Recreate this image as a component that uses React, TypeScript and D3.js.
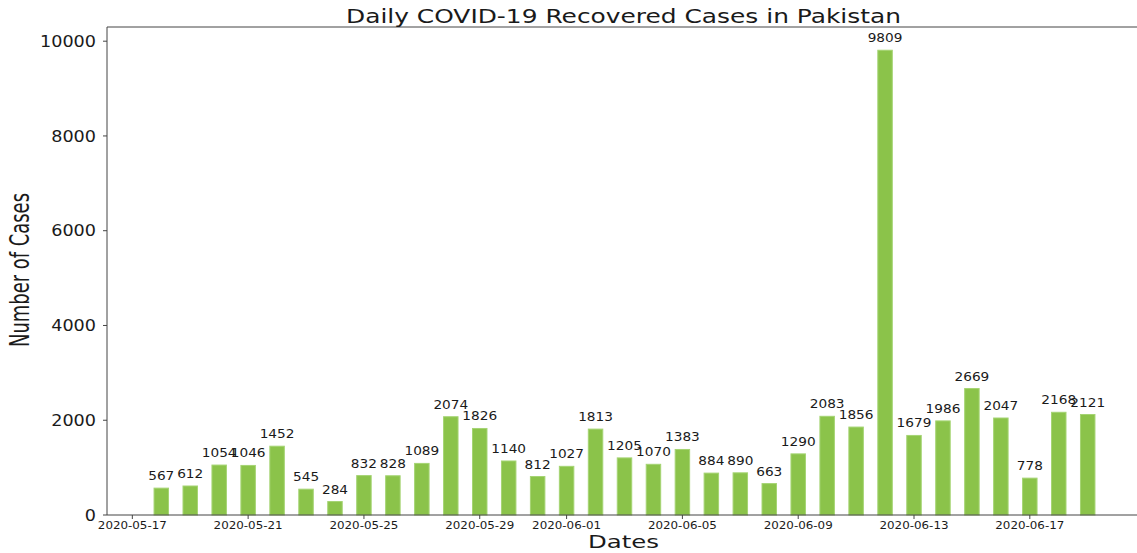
import React from "react";
import * as d3 from "d3";

const dates: string[] = [
  "2020-05-18","2020-05-19","2020-05-20","2020-05-21","2020-05-22","2020-05-23","2020-05-24",
  "2020-05-25","2020-05-26","2020-05-27","2020-05-28","2020-05-29","2020-05-30","2020-05-31",
  "2020-06-01","2020-06-02","2020-06-03","2020-06-04","2020-06-05","2020-06-06","2020-06-07",
  "2020-06-08","2020-06-09","2020-06-10","2020-06-11","2020-06-12","2020-06-13","2020-06-14",
  "2020-06-15","2020-06-16","2020-06-17","2020-06-18","2020-06-19",
];
const recovered: number[] = [
  567, 612, 1054, 1046, 1452, 545, 284,
  832, 828, 1089, 2074, 1826, 1140, 812,
  1027, 1813, 1205, 1070, 1383, 884, 890,
  663, 1290, 2083, 1856, 9809, 1679, 1986,
  2669, 2047, 778, 2168, 2121,
];
const xTickLabels: string[] = [
  "2020-05-17","2020-05-21","2020-05-25","2020-05-29","2020-06-01",
  "2020-06-05","2020-06-09","2020-06-13","2020-06-17",
];
const yTicks: number[] = [0, 2000, 4000, 6000, 8000, 10000];

const DAY = 86400000;
const parse = (s: string) => new Date(s + "T00:00:00Z").getTime();

export default function App() {
  const left = 107, right = 1142, top = 27, bottom = 515;
  const barW = 0.5 * DAY;
  const times = dates.map(parse);
  const minT = d3.min(times)! - barW / 2;
  const maxT = d3.max(times)! + barW / 2;
  const pad = (maxT - minT) * 0.05;
  const x = d3.scaleLinear().domain([minT - pad, maxT + pad]).range([left, right]);
  const yMax = d3.max(recovered)! * 1.05;
  const y = d3.scaleLinear().domain([0, yMax]).range([bottom, top]);
  const font = "'DejaVu Sans', sans-serif";
  const txt = "#1a1a1a";
  const axisCol = "#444";

  return (
    <svg width={1137} height={553} style={{ position: "absolute", left: 0, top: 0, background: "#fff" }} fontFamily={font}>
      <rect x={0} y={0} width={1137} height={553} fill="#fff" />
      {/* bars */}
      {recovered.map((v, i) => {
        const x0 = x(times[i] - barW / 2);
        const x1 = x(times[i] + barW / 2);
        return (
          <rect key={"b" + i} x={x0} y={y(v)} width={x1 - x0} height={y(0) - y(v)}
            fill="#8bc34a" stroke="#a5d473" strokeWidth={1} />
        );
      })}
      {/* bar labels */}
      {recovered.map((v, i) => {
        const s = String(v);
        return (
          <text key={"l" + i} x={x(times[i])} y={y(v) - 8} textAnchor="middle" fontSize={11.5}
            fill={txt} textLength={s.length * 8.7} lengthAdjust="spacingAndGlyphs">{s}</text>
        );
      })}
      {/* spines */}
      <line x1={left} x2={left} y1={top} y2={bottom} stroke={axisCol} strokeWidth={1} />
      <line x1={left} x2={right} y1={bottom} y2={bottom} stroke={axisCol} strokeWidth={1} />
      <line x1={left} x2={right} y1={top} y2={top} stroke={axisCol} strokeWidth={1} />
      <line x1={right} x2={right} y1={top} y2={bottom} stroke={axisCol} strokeWidth={1} />
      {/* y ticks */}
      {yTicks.map((t) => {
        const s = String(t);
        return (
          <g key={"yt" + t}>
            <line x1={left - 4} x2={left} y1={y(t)} y2={y(t)} stroke={axisCol} />
            <text x={96} y={y(t)} dy="0.36em" textAnchor="end" fontSize={15.5} fill={txt}
              textLength={s.length * 11.2} lengthAdjust="spacingAndGlyphs">{s}</text>
          </g>
        );
      })}
      {/* x ticks */}
      {xTickLabels.map((s) => {
        const xp = x(parse(s));
        return (
          <g key={"xt" + s}>
            <line x1={xp} x2={xp} y1={bottom} y2={bottom + 4} stroke={axisCol} />
            <text x={xp} y={529} textAnchor="middle" fontSize={11} fill={txt}
              textLength={69} lengthAdjust="spacingAndGlyphs">{s}</text>
          </g>
        );
      })}
      {/* title */}
      <text x={623.5} y={22.7} textAnchor="middle" fontSize={18.8} fill={txt}
        textLength={555} lengthAdjust="spacingAndGlyphs">Daily COVID-19 Recovered Cases in Pakistan</text>
      {/* x label */}
      <text x={623.5} y={547.7} textAnchor="middle" fontSize={17.5} fill={txt}
        textLength={71} lengthAdjust="spacingAndGlyphs">Dates</text>
      {/* y label */}
      <text transform="translate(29,270) rotate(-90)" textAnchor="middle" fontSize={26} fill={txt}
        textLength={154} lengthAdjust="spacingAndGlyphs">Number of Cases</text>
    </svg>
  );
}
